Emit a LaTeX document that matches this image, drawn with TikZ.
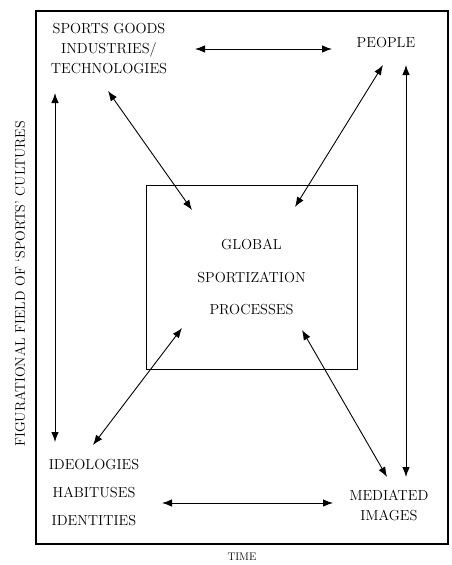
\documentclass[tikz,border=0pt]{standalone}
\usepackage{tikz}
\usetikzlibrary{arrows.meta, positioning}

\tikzset{
  lbl/.style={align=center, font=\fontsize{14.5}{20}\selectfont, inner sep=0pt},
  arr/.style={{Latex[length=10pt,width=7.5pt]}-{Latex[length=10pt,width=7.5pt]}, line width=0.9pt},
}

\begin{document}
\begin{tikzpicture}[x=1pt,y=-1pt]
\useasboundingbox (0,0) rectangle (452,565);

% frames
\draw[line width=2.4pt] (36,11) rectangle (448,544);
\node[draw, line width=0.8pt, minimum width=211pt, minimum height=184pt, inner sep=0pt] (core) at (251.5,277) {};

% corner labels
\node[lbl] (goods) at (109,49) {SPORTS GOODS\\INDUSTRIES/\\TECHNOLOGIES};
\node[lbl] (people) at (386,43) {PEOPLE};
\node[lbl, font=\fontsize{14.5}{28}\selectfont] (ideol) at (94,493) {IDEOLOGIES\\HABITUSES\\IDENTITIES};
\node[lbl] (media) at (389,505) {MEDIATED\\IMAGES};
\node[lbl, font=\fontsize{14.5}{32.5}\selectfont] (glob) at (core) {GLOBAL\\SPORTIZATION\\PROCESSES};

% axis labels
\node[font=\fontsize{14}{14}\selectfont, rotate=90] (field) at (20,284) {FIGURATIONAL FIELD OF `SPORTS' CULTURES};
\node[font=\fontsize{11}{11}\selectfont] (time) at (242,557) {TIME};

% arrow ends
\coordinate (t1) at (195,49);   \coordinate (t2) at (332,49);
\coordinate (b1) at (162,503);  \coordinate (b2) at (333,503);
\coordinate (l1) at (55,93);    \coordinate (l2) at (55,442);
\coordinate (r1) at (406,65);   \coordinate (r2) at (406,477);
\coordinate (g1) at (108,91);   \coordinate (g2) at (192,210);
\coordinate (p1) at (383,65);   \coordinate (p2) at (295,207);
\coordinate (i1) at (93,445);   \coordinate (i2) at (182,328);
\coordinate (m1) at (387,477);  \coordinate (m2) at (302,330);

\draw[arr] (t1) -- (t2);
\draw[arr] (b1) -- (b2);
\draw[arr] (l1) -- (l2);
\draw[arr] (r1) -- (r2);
\draw[arr] (g1) -- (g2);
\draw[arr] (p1) -- (p2);
\draw[arr] (i1) -- (i2);
\draw[arr] (m1) -- (m2);
\end{tikzpicture}
\end{document}
